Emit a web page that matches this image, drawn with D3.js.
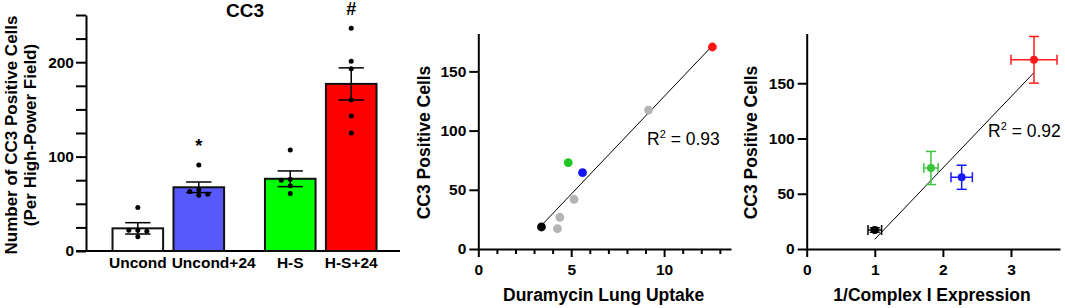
<!DOCTYPE html>
<html>
<head>
<meta charset="utf-8">
<script src="https://cdn.jsdelivr.net/npm/d3@7"></script>
<style>
    body { margin: 0; background: #fff; }
    svg text { font-family: "Liberation Sans", Arial, sans-serif; fill: #000; }
</style>
</head>
<body>
<div id="chart"></div>
<script>
// Data - bar panel
const groups = ["Uncond", "Uncond+24", "H-S", "H-S+24"];
const groupMeans = [24, 67.5, 76.5, 177];
const groupSem = [6, 5.6, 8.3, 17];
const groupDots = [
    [46, 22, 22, 21, 15],
    [91, 65, 63, 60, 59],
    [107, 76, 75, 69, 61],
    [236, 201, 193, 160, 143, 125]
];
const groupMarks = ["", "*", "", "#"];
const barColors = ["#ffffff", "#5858ff", "#00ff00", "#ff0000"];

// Data - duramycin scatter
const durUptake = [3.4, 4.26, 4.39, 5.15, 9.16, 4.84, 5.61, 12.6];
const durCC3 = [18.6, 17.2, 26.8, 42, 117.3, 73, 64.5, 170.6];
const durColors = ["#000000", "#b4b4b4", "#b4b4b4", "#b4b4b4", "#b4b4b4", "#22c622", "#1414ff", "#ff1414"];
const durFit = {slope: 16.5, intercept: -36.2, r2: "0.93"};

// Data - complex I scatter
const cxInv = [1.0, 1.825, 2.276, 3.338];
const cxInvErr = [0.1, 0.105, 0.157, 0.338];
const cxCC3 = [17.2, 73.3, 64.9, 171.2];
const cxCC3Err = [2, 15, 10.9, 21.1];
const cxColors = ["#000000", "#3cc43c", "#1a1aff", "#ff1a1a"];
const cxFit = {slope: 64.5, intercept: -55.7, r2: "0.92"};

const W = 1065, H = 308;
const svg = d3.select("#chart").append("svg")
    .attr("width", W)
    .attr("height", H);

function styleAxis(g) {
    g.select(".domain").attr("stroke", "#000").attr("stroke-width", 2);
    g.selectAll(".tick line").attr("stroke", "#000").attr("stroke-width", 2);
    g.selectAll(".tick text")
        .attr("font-size", "15.5px")
        .attr("font-weight", "bold");
}

// ---------------- Panel 1: bars ----------------
let p1 = {left: 86, right: 400, top: 15, bottom: 251};

// second pair of bars sits after a gap
let barPos = groups.map((d, i) => i + (i >= 2 ? 0.5 : 0));

let x1 = d3.scaleLinear().domain([-0.85, 4.3]).range([p1.left, p1.right]);
let y1 = d3.scaleLinear().domain([0, 250]).range([p1.bottom, p1.top]);
let unit1 = x1(1) - x1(0);
let barW = unit1 * 0.83;

let g1 = svg.append("g");

g1.append("g")
    .attr("transform", `translate(${p1.left},0)`)
    .call(d3.axisLeft(y1).tickValues(d3.range(0, 251, 25)).tickSize(10).tickSizeOuter(0)
        .tickFormat(d => d % 100 === 0 ? d : ""))
    .call(styleAxis)
    .call(g => g.selectAll(".tick text").attr("x", -12));

g1.append("line")
    .attr("x1", p1.left - 10).attr("x2", p1.right)
    .attr("y1", y1(0)).attr("y2", y1(0))
    .attr("stroke", "#000").attr("stroke-width", 2);

g1.selectAll(".bar")
    .data(groups)
    .enter()
    .append("rect")
    .attr("x", (d, i) => x1(barPos[i]) - barW / 2)
    .attr("width", barW)
    .attr("y", (d, i) => y1(groupMeans[i]))
    .attr("height", (d, i) => y1(0) - y1(groupMeans[i]))
    .attr("fill", (d, i) => barColors[i])
    .attr("stroke", "#111")
    .attr("stroke-width", 2);

// simple swarm so equal values do not stack on each other
function swarm(values, cx) {
    let placed = [];
    let sorted = values.slice().sort((a, b) => b - a);
    sorted.forEach(v => {
        let py = y1(v);
        let offsets = [0, -9, 9, -18, 18];
        for (let o of offsets) {
            let ok = placed.every(p => Math.hypot(p.x - (cx + o), p.y - py) >= 5.5);
            if (ok) { placed.push({x: cx + o, y: py}); break; }
        }
    });
    return placed;
}

let prevLabelEnd = -Infinity;

groups.forEach((grp, i) => {
    let pts = swarm(groupDots[i], x1(barPos[i]));
    g1.selectAll(".dot" + i)
        .data(pts)
        .enter()
        .append("circle")
        .attr("cx", d => d.x)
        .attr("cy", d => d.y)
        .attr("r", 2.5)
        .attr("fill", "#000");

    let cx = x1(barPos[i]);
    let top = y1(groupMeans[i] + groupSem[i]);
    let bot = y1(groupMeans[i] - groupSem[i]);
    let cap = barW / 4;
    let eb = g1.append("g").attr("stroke", "#000").attr("stroke-width", 1.5);
    eb.append("line").attr("x1", cx).attr("x2", cx).attr("y1", top).attr("y2", bot);
    eb.append("line").attr("x1", cx - cap).attr("x2", cx + cap).attr("y1", top).attr("y2", top);
    eb.append("line").attr("x1", cx - cap).attr("x2", cx + cap).attr("y1", bot).attr("y2", bot);

    if (groupMarks[i] !== "") {
        g1.append("text")
            .attr("x", cx)
            .attr("y", y1(d3.max(groupDots[i])) - 19)
            .attr("text-anchor", "middle")
            .attr("dominant-baseline", "central")
            .attr("font-size", "18px")
            .attr("font-weight", "bold")
            .text(groupMarks[i]);
    }

    // category label: centred, pushed right if it would run into the previous one
    let lab = g1.append("text")
        .attr("y", 268)
        .attr("font-size", "15.5px")
        .attr("font-weight", "bold")
        .text(grp);
    let lw = lab.node().getComputedTextLength();
    let lx = Math.max(cx - lw / 2, prevLabelEnd + 5);
    lab.attr("x", lx);
    prevLabelEnd = lx + lw;
});

g1.append("text")
    .attr("x", (p1.left + p1.right) / 2 + 2)
    .attr("y", 17)
    .attr("text-anchor", "middle")
    .attr("font-size", "19px")
    .attr("font-weight", "bold")
    .text("CC3");

let ylab1 = g1.append("text")
    .attr("transform", `translate(17,${(p1.top + p1.bottom) / 2 + 2}) rotate(-90)`)
    .attr("text-anchor", "middle")
    .attr("font-size", "17px")
    .attr("font-weight", "bold");
ylab1.append("tspan").attr("x", 0).attr("y", 0).text("Number of CC3 Positive Cells");
ylab1.append("tspan").attr("x", 0).attr("y", 19).text("(Per High-Power Field)");

// ---------------- Panel 2: duramycin ----------------
let p2 = {left: 478.3, right: 731, top: 33.5, bottom: 249};
let x2 = d3.scaleLinear().domain([0, 13.6]).range([p2.left, p2.right]);
let y2 = d3.scaleLinear().domain([0, 182]).range([p2.bottom, p2.top]);

let g2 = svg.append("g");

g2.append("g")
    .attr("transform", `translate(0,${p2.bottom})`)
    .call(d3.axisBottom(x2).tickValues(d3.range(0, 14, 1)).tickSize(5).tickSizeOuter(0)
        .tickFormat(d => d % 5 === 0 ? d : ""))
    .call(styleAxis)
    .call(g => g.selectAll(".tick").filter(d => d % 5 === 0).select("line").attr("y2", 8))
    .call(g => g.selectAll(".tick text").attr("y", 15));

g2.append("g")
    .attr("transform", `translate(${p2.left},0)`)
    .call(d3.axisLeft(y2).tickValues([0, 50, 100, 150]).tickSize(9).tickSizeOuter(0))
    .call(styleAxis)
    .call(g => g.selectAll(".tick text").attr("x", -12));

let fit2 = d3.extent(durUptake);
g2.append("line")
    .attr("x1", x2(fit2[0])).attr("y1", y2(durFit.slope * fit2[0] + durFit.intercept))
    .attr("x2", x2(fit2[1])).attr("y2", y2(durFit.slope * fit2[1] + durFit.intercept))
    .attr("stroke", "#000").attr("stroke-width", 1);

g2.selectAll(".pt")
    .data(durUptake)
    .enter()
    .append("circle")
    .attr("cx", d => x2(d))
    .attr("cy", (d, i) => y2(durCC3[i]))
    .attr("r", 4.4)
    .attr("fill", (d, i) => durColors[i]);

let r2a = g2.append("text")
    .attr("x", 647)
    .attr("y", 145)
    .attr("font-size", "17.5px");
r2a.append("tspan").text("R");
r2a.append("tspan").attr("dy", -7).attr("font-size", "11px").text("2");
r2a.append("tspan").attr("dy", 7).text(" = " + durFit.r2);

g2.append("text")
    .attr("x", (p2.left + p2.right) / 2 - 1)
    .attr("y", 301)
    .attr("text-anchor", "middle")
    .attr("font-size", "17.5px")
    .attr("font-weight", "bold")
    .text("Duramycin Lung Uptake");

g2.append("text")
    .attr("transform", `translate(430,142.5) rotate(-90)`)
    .attr("text-anchor", "middle")
    .attr("font-size", "17.5px")
    .attr("font-weight", "bold")
    .text("CC3 Positive Cells");

// ---------------- Panel 3: complex I ----------------
let p3 = {left: 806.7, right: 1060, top: 33.5, bottom: 249};
let x3 = d3.scaleLinear().domain([0, 3.72]).range([p3.left, p3.right]);
let y3 = d3.scaleLinear().domain([0, 195]).range([p3.bottom, p3.top]);

let g3 = svg.append("g");

g3.append("g")
    .attr("transform", `translate(0,${p3.bottom})`)
    .call(d3.axisBottom(x3).tickValues([0, 1, 2, 3]).tickSize(8).tickSizeOuter(0)
        .tickFormat(d3.format("d")))
    .call(styleAxis)
    .call(g => g.selectAll(".tick text").attr("y", 15));

g3.append("g")
    .attr("transform", `translate(${p3.left},0)`)
    .call(d3.axisLeft(y3).tickValues([0, 50, 100, 150]).tickSize(9).tickSizeOuter(0))
    .call(styleAxis)
    .call(g => g.selectAll(".tick text").attr("x", -12));

let fit3 = d3.extent(cxInv);
g3.append("line")
    .attr("x1", x3(fit3[0])).attr("y1", y3(cxFit.slope * fit3[0] + cxFit.intercept))
    .attr("x2", x3(fit3[1])).attr("y2", y3(cxFit.slope * fit3[1] + cxFit.intercept))
    .attr("stroke", "#000").attr("stroke-width", 1);

cxInv.forEach((xv, i) => {
    let cx = x3(xv), cy = y3(cxCC3[i]);
    let eb = g3.append("g").attr("stroke", cxColors[i]).attr("stroke-width", 1.5);
    let xl = x3(xv - cxInvErr[i]), xr = x3(xv + cxInvErr[i]);
    let yt = y3(cxCC3[i] + cxCC3Err[i]), yb = y3(cxCC3[i] - cxCC3Err[i]);
    let cap = 5;
    eb.append("line").attr("x1", xl).attr("x2", xr).attr("y1", cy).attr("y2", cy);
    eb.append("line").attr("x1", xl).attr("x2", xl).attr("y1", cy - cap).attr("y2", cy + cap);
    eb.append("line").attr("x1", xr).attr("x2", xr).attr("y1", cy - cap).attr("y2", cy + cap);
    eb.append("line").attr("x1", cx).attr("x2", cx).attr("y1", yt).attr("y2", yb);
    eb.append("line").attr("x1", cx - cap).attr("x2", cx + cap).attr("y1", yt).attr("y2", yt);
    eb.append("line").attr("x1", cx - cap).attr("x2", cx + cap).attr("y1", yb).attr("y2", yb);
    g3.append("circle")
        .attr("cx", cx).attr("cy", cy)
        .attr("r", 4)
        .attr("fill", cxColors[i]);
});

let r2b = g3.append("text")
    .attr("x", 988)
    .attr("y", 137)
    .attr("font-size", "17.5px");
r2b.append("tspan").text("R");
r2b.append("tspan").attr("dy", -7).attr("font-size", "11px").text("2");
r2b.append("tspan").attr("dy", 7).text(" = " + cxFit.r2);

g3.append("text")
    .attr("x", 932)
    .attr("y", 301)
    .attr("text-anchor", "middle")
    .attr("font-size", "17.5px")
    .attr("font-weight", "bold")
    .text("1/Complex I Expression");

g3.append("text")
    .attr("transform", `translate(757,142.5) rotate(-90)`)
    .attr("text-anchor", "middle")
    .attr("font-size", "17.5px")
    .attr("font-weight", "bold")
    .text("CC3 Positive Cells");
</script>
</body>
</html>
